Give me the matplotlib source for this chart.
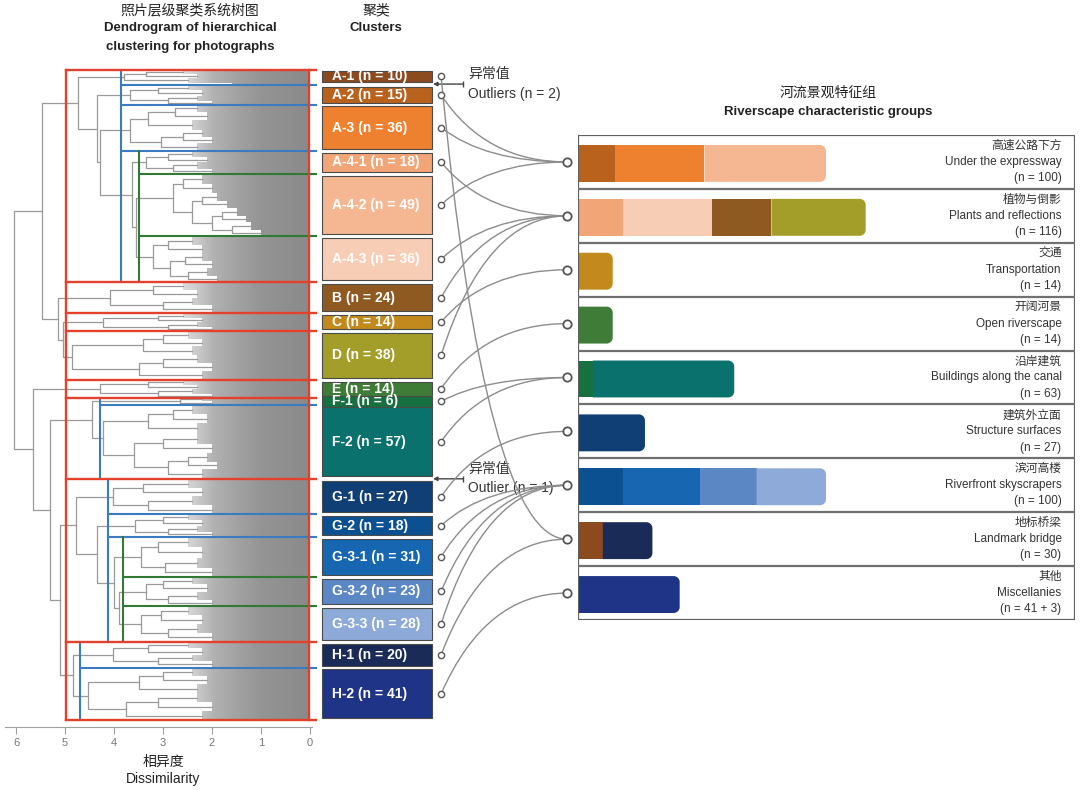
import matplotlib
matplotlib.use("Agg")
import matplotlib.pyplot as plt
import numpy as np
from matplotlib.patches import Rectangle, PathPatch
from matplotlib.path import Path
from matplotlib.colors import LinearSegmentedColormap

plt.rcParams['font.family'] = ['Liberation Sans', 'Noto Sans CJK SC', 'DejaVu Sans']

# ---------------- data ----------------
clusters = ['A-1', 'A-2', 'A-3', 'A-4-1', 'A-4-2', 'A-4-3', 'B', 'C', 'D', 'E',
            'F-1', 'F-2', 'G-1', 'G-2', 'G-3-1', 'G-3-2', 'G-3-3', 'H-1', 'H-2']
sizes = [10, 15, 36, 18, 49, 36, 24, 14, 38, 14, 6, 57, 27, 18, 31, 23, 28, 20, 41]
box_colors = ['#8c4a1f', '#b8621e', '#ee812f', '#f2a576', '#f5b792', '#f8cdb6',
              '#8e5a22', '#c28a1d', '#a39d2a', '#3f7c37', '#17703f', '#0a716c',
              '#0f3f74', '#0b5192', '#1766b1', '#5b87c5', '#8daad8', '#1b2b58', '#1f3486']
outliers = {'A-1': 2, 'F-2': 1}   # unlabeled photos placed right after these clusters
outlier_tip = 1.6

# which riverscape group (row) each cluster feeds
cluster_group = [7, 0, 0, 1, 0, 1, 1, 2, 1, 3, 4, 4, 5, 6, 6, 6, 6, 7, 8]

group_cn = ['高速公路下方', '植物与倒影', '交通', '开阔河景', '沿岸建筑',
            '建筑外立面', '滨河高楼', '地标桥梁', '其他']
group_en = ['Under the expressway', 'Plants and reflections', 'Transportation',
            'Open riverscape', 'Buildings along the canal', 'Structure surfaces',
            'Riverfront skyscrapers', 'Landmark bridge', 'Miscellanies']
group_n = ['(n = 100)', '(n = 116)', '(n = 14)', '(n = 14)', '(n = 63)',
           '(n = 27)', '(n = 100)', '(n = 30)', '(n = 41 + 3)']

# cut levels (dissimilarity)
red_cut = 4.97
blue_cuts = {'A': 3.85, 'F': 4.29, 'G': 4.12, 'H': 4.7}
green_cuts = {'A-4': 3.5, 'G-3': 3.82}

# rough inner structure of each cluster: [height, left, right] or (n leaves, tip height)
subtrees = {
    'A-1': [3.80, [3.35, (3, 2.6), (3, 2.3)], (4, 2.5)],
    'A-2': [3.67, [3.1, (4, 2.5), (4, 2.2)], [2.9, (4, 2.3), (3, 2.0)]],
    'A-3': [3.67, [3.3, [2.75, (6, 2.3), (6, 2.1)], (8, 2.4)],
            [3.05, [2.6, (5, 2.2), (5, 2.0)], (6, 2.3)]],
    'A-4-1': [3.35, [2.9, (5, 2.4), (4, 2.1)], [2.8, (5, 2.3), (4, 2.0)]],
    'A-4-2': [2.8, [2.6, (8, 2.2), (7, 2.0)],
              [2.4, [2.2, (6, 1.9), (6, 1.7)],
               [2.0, [1.8, (6, 1.5), (5, 1.3)], [1.6, (6, 1.2), (5, 1.0)]]]],
    'A-4-3': [3.2, [2.9, (7, 2.4), (6, 2.2)],
              [2.85, [2.55, (6, 2.2), (6, 2.0)], [2.5, (6, 2.1), (5, 1.9)]]],
    'B': [4.08, [3.2, (6, 2.6), (6, 2.3)], [3.0, (6, 2.4), (6, 2.0)]],
    'C': [4.22, [3.1, (4, 2.6), (3, 2.2)], [2.9, (4, 2.3), (3, 2.0)]],
    'D': [4.86, [3.4, [3.0, (6, 2.5), (6, 2.2)], (7, 2.4)],
          [3.5, [3.0, (6, 2.3), (6, 2.0)], (7, 2.2)]],
    'E': [4.29, [3.3, (4, 2.6), (3, 2.3)], [3.1, (4, 2.4), (3, 2.0)]],
    'F-1': [2.65, (3, 2.2), (3, 2.0)],
    'F-2': [4.22, [3.3, [2.8, (7, 2.4), (7, 2.1)], (8, 2.3)],
            [3.6, [3.0, (8, 2.3), (7, 2.0)], [2.9, [2.5, (7, 2.1), (6, 1.9)], (7, 2.2)]]],
    'G-1': [4.02, [3.4, (7, 2.5), (6, 2.2)], [3.3, (7, 2.4), (7, 2.0)]],
    'G-2': [3.57, [3.0, (5, 2.5), (4, 2.2)], [2.9, (5, 2.3), (4, 2.0)]],
    'G-3-1': [3.45, [3.1, (8, 2.5), (8, 2.2)], [2.95, (8, 2.3), (7, 2.0)]],
    'G-3-2': [3.35, [3.0, (6, 2.4), (6, 2.1)], [2.9, (6, 2.3), (5, 2.0)]],
    'G-3-3': [3.45, [3.05, (7, 2.5), (7, 2.2)], [2.9, (7, 2.3), (7, 2.0)]],
    'H-1': [4.02, [3.3, (5, 2.5), (5, 2.2)], [3.1, (5, 2.4), (5, 2.0)]],
    'H-2': [4.53, [3.5, [3.0, (7, 2.4), (6, 2.1)], (7, 2.3)],
            [3.75, [3.1, (7, 2.3), (7, 2.0)], (7, 2.2)]],
}

top_tree = [6.04,
            [5.47,
             [4.73, 'A-1', [4.35, 'A-2', [4.29, 'A-3', [3.63, 'A-4-1', [3.55, 'A-4-2', 'A-4-3']]]]],
             [5.14, 'B', [5.04, 'C', 'D']]],
            [5.65, 'E',
             [5.31, [4.45, 'F-1', 'F-2'],
              [5.10,
               [4.78, 'G-1', [4.35, 'G-2', [4.0, 'G-3-1', [3.9, 'G-3-2', 'G-3-3']]]],
               [4.84, 'H-1', 'H-2']]]]]

size_of = dict(zip(clusters, sizes))
color_of = dict(zip(clusters, box_colors))
n_total = sum(sizes) + sum(outliers.values())

# ---------------- tree layout ----------------
span = {}
leaf_blocks = []
links = []
cursor = [0]


def place(node):
    if isinstance(node, str):
        start = cursor[0]
        res = place(subtrees[node])
        span[node] = (start, cursor[0])
        if node in outliers:
            k = outliers[node]
            leaf_blocks.append((cursor[0], cursor[0] + k, outlier_tip))
            cursor[0] += k
        return res
    if isinstance(node, tuple):
        n, tip = node
        y0 = cursor[0]
        cursor[0] += n
        leaf_blocks.append((y0, y0 + n, tip))
        return y0 + n / 2, tip
    h, left, right = node
    yl, hl = place(left)
    yr, hr = place(right)
    links.append(([hl, h, h, hr], [yl, yl, yr, yr]))
    return (yl + yr) / 2, h


place(top_tree)
full_end = {c: span[c][1] + outliers.get(c, 0) for c in clusters}


def rounded_right(x0, y0, w, h, rx, ry):
    ''' rectangle path with the two right corners rounded '''
    k = 0.5523
    xr = x0 + w
    v = [(x0, y0), (xr - rx, y0), (xr - rx + k * rx, y0), (xr, y0 + ry - k * ry), (xr, y0 + ry),
         (xr, y0 + h - ry), (xr, y0 + h - ry + k * ry), (xr - rx + k * rx, y0 + h), (xr - rx, y0 + h),
         (x0, y0 + h), (x0, y0)]
    c = [Path.MOVETO, Path.LINETO, Path.CURVE4, Path.CURVE4, Path.CURVE4, Path.LINETO,
         Path.CURVE4, Path.CURVE4, Path.CURVE4, Path.LINETO, Path.CLOSEPOLY]
    return Path(v, c)


# ---------------- figure ----------------
W, H = 1080, 790
fig = plt.figure(figsize=(W / 100, H / 100), dpi=100)
fig.patch.set_facecolor('white')


def frame(x0, y0, x1, y1):
    return [x0 / W, 1 - y1 / H, (x1 - x0) / W, (y1 - y0) / H]


# ---- dendrogram ----
ax = fig.add_axes(frame(5, 66, 320, 727))
for xs, ys in links:
    ax.plot(xs, ys, color='#9a9a9a', lw=0.9, zorder=2)

shade = LinearSegmentedColormap.from_list(
    'shade', [(0, '#8a8a8a'), (0.33, '#949494'), (0.5, '#a2a2a2'), (0.66, '#b2b2b2'),
              (0.78, '#cdcdcd'), (0.9, '#e2e2e2'), (1, '#eeeeee')])
verts, codes = [], []
for y0, y1, tip in leaf_blocks:
    verts += [(0, y0), (tip, y0), (tip, y1), (0, y1), (0, y0)]
    codes += [Path.MOVETO, Path.LINETO, Path.LINETO, Path.LINETO, Path.CLOSEPOLY]
clip = PathPatch(Path(verts, codes), transform=ax.transData, fc='none', ec='none')
ax.add_patch(clip)
im = ax.imshow(np.linspace(0, 1, 256)[None, :], cmap=shade, extent=(0, 3.0, n_total, 0),
               aspect='auto', interpolation='bilinear', zorder=1)
im.set_clip_path(clip)

x_end = -0.12
red, blue, green = '#e5402b', '#3b7bc0', '#2f7a34'
tops = [c.split('-')[0] for c in clusters]
seconds = ['-'.join(c.split('-')[:2]) for c in clusters]

# red boxes
group_starts = []
for i, c in enumerate(clusters):
    if i == 0 or tops[i] != tops[i - 1]:
        group_starts.append(span[c][0])
for ys in group_starts + [n_total]:
    ax.plot([red_cut, x_end], [ys, ys], color=red, lw=1.7, zorder=4)
ax.plot([red_cut, red_cut], [0, n_total], color=red, lw=1.7, zorder=4)
ax.plot([0.03, 0.03], [0, n_total], color=red, lw=1.7, zorder=4)

# blue cuts
for g, cut in blue_cuts.items():
    mem = [i for i, t in enumerate(tops) if t == g]
    ax.plot([cut, cut], [span[clusters[mem[0]]][0], full_end[clusters[mem[-1]]]],
            color=blue, lw=1.5, zorder=3)
    for a, b in zip(mem[:-1], mem[1:]):
        if seconds[a] != seconds[b]:
            ys = span[clusters[b]][0]
            ax.plot([cut, x_end], [ys, ys], color=blue, lw=1.5, zorder=3)

# green cuts
for g, cut in green_cuts.items():
    mem = [i for i, s in enumerate(seconds) if s == g]
    ax.plot([cut, cut], [span[clusters[mem[0]]][0], full_end[clusters[mem[-1]]]],
            color=green, lw=1.5, zorder=3)
    for b in mem[1:]:
        ys = span[clusters[b]][0]
        ax.plot([cut, x_end], [ys, ys], color=green, lw=1.5, zorder=3)

ax.set_xlim(6.2245, -0.204)
ax.set_ylim(n_total * 657 / 650, -n_total * 4 / 650)
for s in ['top', 'left', 'right']:
    ax.spines[s].set_visible(False)
ax.spines['bottom'].set_color('#a0a0a0')
ax.spines['bottom'].set_bounds(6.22, -0.04)
ax.set_yticks([])
ax.set_xticks(range(0, 7))
ax.tick_params(axis='x', direction='out', length=5, width=0.8, color='#a0a0a0',
               labelcolor='#777777', labelsize=8, pad=3)
ax.patch.set_alpha(0)

# ---- cluster boxes ----
axl = fig.add_axes(frame(318, 66, 470, 727), sharey=ax)
axl.set_xlim(0, 1)
axl.axis('off')
left_pts = {}
for c in clusters:
    y0, y1 = span[c]
    n = y1 - y0
    hgt = max(n - 3, 8)
    yc = (y0 + y1) / 2
    axl.add_patch(Rectangle((0.026, yc - hgt / 2), 0.724, hgt, fc=color_of[c],
                            ec='#4a4a4a', lw=0.8, zorder=2))
    axl.text(0.092, yc, f'{c} (n = {n})', color='white', fontsize=10,
             fontweight='bold', va='center', ha='left', zorder=3)
    left_pts[c] = (0.81, yc)

for c in outliers:
    yo = span[c][1] + outliers[c] / 2
    axl.annotate('', xy=(0.757, yo), xytext=(0.954, yo),
                 arrowprops=dict(arrowstyle='-|>', color='#444444', lw=1.0,
                                 mutation_scale=6, shrinkA=0, shrinkB=0))
    axl.plot([0.954], [yo], marker='|', ms=4, color='#444444', mew=1)
    word = 'Outliers' if outliers[c] > 1 else 'Outlier'
    axl.text(0.987, yo - 8, '异常值', fontsize=10, color='#333333', va='center',
             ha='left', clip_on=False)
    axl.text(0.987, yo + 7.5, f'{word} (n = {outliers[c]})', fontsize=10,
             color='#333333', va='center', ha='left', clip_on=False)

# ---- riverscape groups ----
axb = fig.add_axes(frame(578, 135, 1075, 620))
axb.set_xlim(0, 200.4)
axb.set_ylim(9, 0)
axb.axis('off')
axb.add_patch(Rectangle((0, 0), 200.4, 9, fc='none', ec='#606060', lw=1.6, zorder=5))
axb.hlines(range(1, 9), 0, 200.4, color='#707070', lw=1.6, zorder=5)

px_x = 497 / 200.4
px_y = 485 / 9
rx, ry = 6 / px_x, 6 / px_y
for i in range(9):
    members = [c for c, g in zip(clusters, cluster_group) if g == i]
    left = 0
    y0, hgt = i + 0.185, 0.685
    for k, c in enumerate(members):
        n = size_of[c]
        if k == len(members) - 1:
            axb.add_patch(PathPatch(rounded_right(left, y0, n, hgt, rx, ry),
                                    fc=color_of[c], ec='none'))
        else:
            axb.add_patch(Rectangle((left, y0), n, hgt, fc=color_of[c], ec='none'))
        left += n
    axb.text(195, i + 0.2, group_cn[i], fontsize=8.5, color='#333333', ha='right', va='center')
    axb.text(195, i + 0.5, group_en[i], fontsize=8.5, color='#333333', ha='right', va='center')
    axb.text(195, i + 0.8, group_n[i], fontsize=8.5, color='#333333', ha='right', va='center')

# ---- connectors ----
axo = fig.add_axes([0, 0, 1, 1])
axo.set_xlim(0, W)
axo.set_ylim(0, H)
axo.axis('off')
axo.patch.set_alpha(0)
right_pts = [axb.transData.transform((-4.4, i + 0.5)) for i in range(9)]
for c, g in zip(clusters, cluster_group):
    x0, y0 = axl.transData.transform(left_pts[c])
    x1, y1 = right_pts[g]
    p = Path([(x0, y0), (x0 + 0.35 * (x1 - x0), y1), (x1, y1)],
             [Path.MOVETO, Path.CURVE3, Path.CURVE3])
    axo.add_patch(PathPatch(p, fc='none', ec='#8c8c8c', lw=1.0, zorder=1))
    axo.plot(x0, y0, 'o', ms=4.5, mfc='white', mec='#555555', mew=1.0, zorder=3)
for x1, y1 in right_pts:
    axo.plot(x1, y1, 'o', ms=6, mfc='white', mec='#555555', mew=1.3, zorder=3)

# ---- titles ----
def ftext(x, y, s, **kw):
    fig.text(x / W, 1 - y / H, s, ha='center', va='center', color='#222222', **kw)


ftext(190, 10, '照片层级聚类系统树图', fontsize=10)
ftext(190, 28, 'Dendrogram of hierarchical', fontsize=9.5, fontweight='bold')
ftext(190, 47, 'clustering for photographs', fontsize=9.5, fontweight='bold')
ftext(376, 10, '聚类', fontsize=10)
ftext(376, 28, 'Clusters', fontsize=9.5, fontweight='bold')
ftext(828, 93, '河流景观特征组', fontsize=10)
ftext(828, 112, 'Riverscape characteristic groups', fontsize=9.5, fontweight='bold')
ftext(163, 762, '相异度', fontsize=10)
ftext(163, 779, 'Dissimilarity', fontsize=10)

fig.savefig('out.png', dpi=100, facecolor='white')
